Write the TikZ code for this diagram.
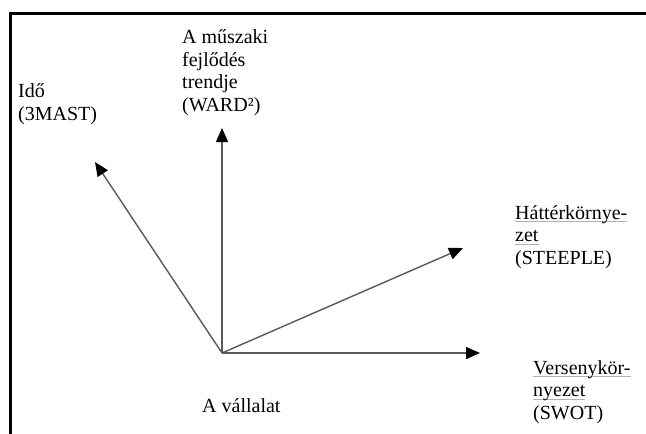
\documentclass[tikz,border=0pt]{standalone}
\usepackage{fontspec}
\setmainfont{Liberation Serif}
\usetikzlibrary{arrows.meta,positioning}
\tikzset{
  frame/.style = {line width=3pt, black},
  vec/.style   = {-{Triangle[length=14pt,width=12pt,color=black]}, line width=1.4pt, black!65},
  lbl/.style   = {anchor=base west, inner sep=0pt, align=left,
                  font=\fontsize{20}{22.5}\selectfont},
}
% grey spell-check mark under a word
\newcommand\spellmark[1]{\setbox0\hbox{#1}\rlap{\color{black!30}\rule[-3pt]{\wd0}{0.8pt}}\box0}

\begin{document}
\begin{tikzpicture}[x=1pt,y=-1pt]
  \useasboundingbox (0,0) rectangle (646,434);
  \clip (0,0) rectangle (646,434);
  \draw[frame] (10,13) rectangle (670,460);
  % axes from the firm
  \coordinate (firm) at (222,353);
  \coordinate (timeTip) at (95,162);
  \coordinate (trendTip) at (222,128);
  \coordinate (envTip) at (463,248);
  \coordinate (compTip) at (480,353);
  \draw[vec] (firm) -- (timeTip);
  \draw[vec] (firm) -- (trendTip);
  \draw[vec] (firm) -- (envTip);
  \draw[vec] (firm) -- (compTip);
  % labels (base = baseline of the last line)
  \node[lbl] (trend) at (182,111) {A műszaki\\fejlődés\\trendje\\(WARD²)};
  \node[lbl] (time) at (18,120) {Idő\\(3MAST)};
  \node[lbl] (env) at (515,264) {\spellmark{Háttérkörnye-}\\\spellmark{zet}\\(STEEPLE)};
  \node[lbl] (comp) at (533,419) {\spellmark{Versenykör-}\\\spellmark{nyezet}\\(SWOT)};
  \node[lbl] (company) at (202,412) {A vállalat};
\end{tikzpicture}
\end{document}
